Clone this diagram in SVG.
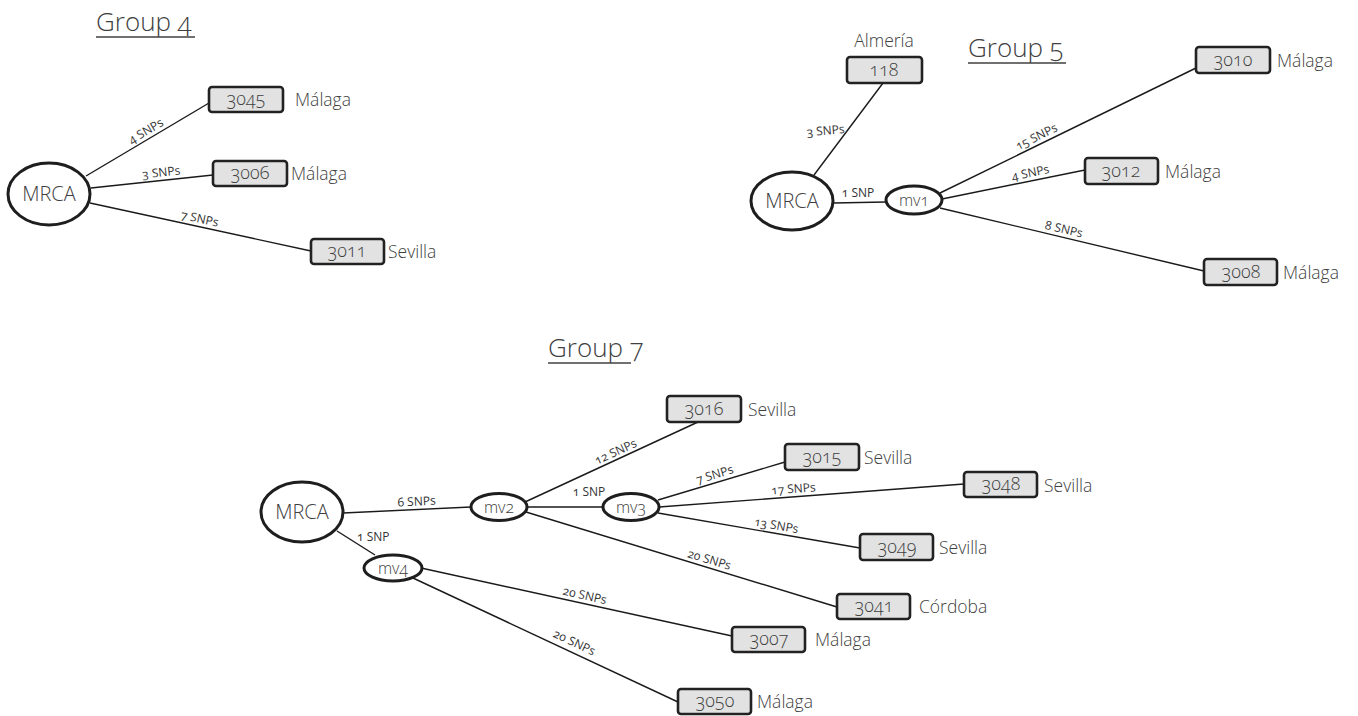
<svg xmlns="http://www.w3.org/2000/svg" width="1358" height="716" viewBox="0 0 1358 716">
<style>
text{font-family:"Open Sans","Noto Sans","Liberation Sans",sans-serif;fill:#404040;font-weight:300;font-variant-numeric:oldstyle-nums;font-feature-settings:"onum" 1}
.title{font-size:26px}
.ul{stroke:#404040;stroke-width:1.5}
.box{fill:#e2e2e2;stroke:#222;stroke-width:2.6}
.num{font-size:18px;text-anchor:middle}
.loc{font-size:17.5px}
.ell{fill:#fff;stroke:#1e1e1e;stroke-width:3}
.big{font-size:20px;text-anchor:middle}
.small{font-size:16px;text-anchor:middle}
.edge{stroke:#1a1a1a;stroke-width:1.4;fill:none}
.lbl{font-size:12px;text-anchor:middle;font-weight:400;fill:#333}
</style>
<rect width="1358" height="716" fill="#fff"/>

<g id="titles">
<text class="title" x="96" y="31">Group 4</text>
<line class="ul" x1="96" y1="37" x2="195" y2="37"/>
<text class="title" x="968" y="57">Group 5</text>
<line class="ul" x1="968" y1="63" x2="1066" y2="63"/>
<text class="title" x="548" y="357">Group 7</text>
<line class="ul" x1="548" y1="363" x2="631" y2="363"/>
</g>

<g id="connectors">
<line class="edge" x1="86" y1="176" x2="209" y2="103"/>
<line class="edge" x1="91" y1="188" x2="213" y2="175"/>
<line class="edge" x1="90" y1="203" x2="311" y2="251"/>
<line class="edge" x1="814" y1="175" x2="883" y2="83"/>
<line class="edge" x1="833" y1="203" x2="886" y2="202"/>
<line class="edge" x1="940" y1="193" x2="1196" y2="68"/>
<line class="edge" x1="942" y1="199" x2="1085" y2="170"/>
<line class="edge" x1="940" y1="208" x2="1204" y2="271"/>
<line class="edge" x1="343" y1="513" x2="471" y2="507"/>
<line class="edge" x1="337" y1="531" x2="375" y2="555"/>
<line class="edge" x1="525" y1="502" x2="698" y2="422"/>
<line class="edge" x1="527" y1="507" x2="603" y2="507"/>
<line class="edge" x1="526" y1="512" x2="837" y2="607"/>
<line class="edge" x1="658" y1="500" x2="785" y2="462"/>
<line class="edge" x1="659" y1="507" x2="964" y2="484"/>
<line class="edge" x1="658" y1="513" x2="860" y2="548"/>
<line class="edge" x1="421" y1="568" x2="732" y2="636"/>
<line class="edge" x1="413" y1="578" x2="678" y2="702"/>
<g id="edge-labels">
<text class="lbl" transform="translate(150,138) rotate(-30.7)" y="-4">4 SNPs</text>
<text class="lbl" transform="translate(162,180.4) rotate(-6.1)" y="-4">3 SNPs</text>
<text class="lbl" transform="translate(198,226.5) rotate(12.3)" y="-4">7 SNPs</text>
<text class="lbl" transform="translate(845,133) rotate(-5)" style="text-anchor:end">3 SNPs</text>
<text class="lbl" x="858" y="197">1 SNP</text>
<text class="lbl" transform="translate(1040,144) rotate(-26.1)" y="-4">15 SNPs</text>
<text class="lbl" transform="translate(1032,180.7) rotate(-11.5)" y="-4">4 SNPs</text>
<text class="lbl" transform="translate(1062,237.1) rotate(13.4)" y="-4">8 SNPs</text>
<text class="lbl" transform="translate(417,509.5) rotate(-2.7)" y="-4">6 SNPs</text>
<text class="lbl" x="357" y="541" style="text-anchor:start">1 SNP</text>
<text class="lbl" transform="translate(619,459.1) rotate(-24.5)" y="-4">12 SNPs</text>
<text class="lbl" x="589" y="496">1 SNP</text>
<text class="lbl" transform="translate(707,567.3) rotate(17)" y="-4">20 SNPs</text>
<text class="lbl" transform="translate(717,482.3) rotate(-16.7)" y="-4">7 SNPs</text>
<text class="lbl" transform="translate(794,496.9) rotate(-4.3)" y="-4">17 SNPs</text>
<text class="lbl" transform="translate(775,533.3) rotate(9.8)" y="-4">13 SNPs</text>
<text class="lbl" transform="translate(583,603.3) rotate(12.4)" y="-4">20 SNPs</text>
<text class="lbl" transform="translate(570,651.5) rotate(25.1)" y="-6">20 SNPs</text>
</g>
</g>

<g id="g4-mrca"><ellipse class="ell" cx="49" cy="194" rx="41" ry="31"/><text class="big" x="49" y="201">MRCA</text></g>
<g id="g4-3045"><rect class="box" x="209" y="87" width="74" height="25" rx="3"/><text class="num" x="246" y="105">3045</text><text class="loc" x="295" y="106">Málaga</text></g>
<g id="g4-3006"><rect class="box" x="213" y="161" width="74" height="25" rx="3"/><text class="num" x="250" y="179">3006</text><text class="loc" x="291" y="180">Málaga</text></g>
<g id="g4-3011"><rect class="box" x="311" y="239" width="73" height="25" rx="3"/><text class="num" x="347" y="257">3011</text><text class="loc" x="388" y="258">Sevilla</text></g>

<g id="g5-mrca"><ellipse class="ell" cx="792" cy="201" rx="41" ry="29"/><text class="big" x="792" y="208">MRCA</text></g>
<g id="g5-mv1"><ellipse class="ell" cx="914" cy="200" rx="28" ry="14"/><text class="small" x="914" y="206">mv1</text></g>
<g id="g5-118"><text class="loc" x="884" y="47" style="text-anchor:middle">Almería</text><rect class="box" x="847" y="57" width="75" height="26" rx="3"/><text class="num" x="884" y="76">118</text></g>
<g id="g5-3010"><rect class="box" x="1196" y="47" width="74" height="26" rx="3"/><text class="num" x="1233" y="66">3010</text><text class="loc" x="1277" y="67">Málaga</text></g>
<g id="g5-3012"><rect class="box" x="1085" y="158" width="73" height="26" rx="3"/><text class="num" x="1121" y="177">3012</text><text class="loc" x="1165" y="178">Málaga</text></g>
<g id="g5-3008"><rect class="box" x="1204" y="259" width="73" height="26" rx="3"/><text class="num" x="1241" y="278">3008</text><text class="loc" x="1283" y="279">Málaga</text></g>

<g id="g7-mrca"><ellipse class="ell" cx="302" cy="512" rx="41" ry="30"/><text class="big" x="302" y="519">MRCA</text></g>
<g id="g7-mv2"><ellipse class="ell" cx="499" cy="507" rx="28" ry="13.5"/><text class="small" x="499" y="513">mv2</text></g>
<g id="g7-mv3"><ellipse class="ell" cx="631" cy="507" rx="28" ry="13.5"/><text class="small" x="631" y="513">mv3</text></g>
<g id="g7-mv4"><ellipse class="ell" cx="393" cy="568" rx="29" ry="13"/><text class="small" x="393" y="574">mv4</text></g>
<g id="g7-3016"><rect class="box" x="667" y="396" width="74" height="26" rx="3"/><text class="num" x="704" y="415">3016</text><text class="loc" x="748" y="416">Sevilla</text></g>
<g id="g7-3015"><rect class="box" x="785" y="444" width="74" height="26" rx="3"/><text class="num" x="822" y="463">3015</text><text class="loc" x="864" y="464">Sevilla</text></g>
<g id="g7-3048"><rect class="box" x="964" y="472" width="73" height="25" rx="3"/><text class="num" x="1001" y="490">3048</text><text class="loc" x="1044" y="492">Sevilla</text></g>
<g id="g7-3049"><rect class="box" x="860" y="534" width="73" height="26" rx="3"/><text class="num" x="897" y="553">3049</text><text class="loc" x="939" y="554">Sevilla</text></g>
<g id="g7-3041"><rect class="box" x="837" y="594" width="73" height="25" rx="3"/><text class="num" x="874" y="612">3041</text><text class="loc" x="919" y="613">Córdoba</text></g>
<g id="g7-3007"><rect class="box" x="732" y="627" width="73" height="25" rx="3"/><text class="num" x="769" y="645">3007</text><text class="loc" x="815" y="646">Málaga</text></g>
<g id="g7-3050"><rect class="box" x="678" y="689" width="73" height="25" rx="3"/><text class="num" x="715" y="707">3050</text><text class="loc" x="757" y="708">Málaga</text></g>
</svg>
